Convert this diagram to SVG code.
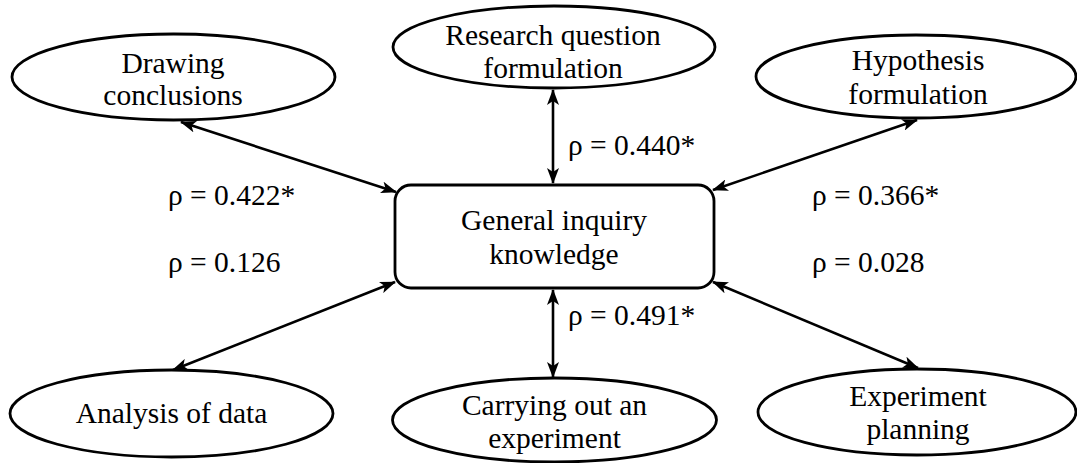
<svg xmlns="http://www.w3.org/2000/svg" width="1077" height="463" viewBox="0 0 1077 463">
<style>
.n{fill:#fff;stroke:#000;stroke-width:2.8}
.t{font-family:"Liberation Serif","Times New Roman",serif;font-size:29.5px;fill:#000;text-anchor:middle}
.l{font-family:"Liberation Serif","Times New Roman",serif;font-size:29.5px;fill:#000}
.c{stroke:#000;stroke-width:2.6;fill:none;marker-start:url(#a);marker-end:url(#a)}
</style>
<defs>
<marker id="a" viewBox="0 0 16 12" refX="15" refY="6" markerWidth="16" markerHeight="12" markerUnits="userSpaceOnUse" orient="auto-start-reverse">
<path d="M0,0 L16,6 L0,12 L4,6 Z" fill="#000"/>
</marker>
</defs>
<g id="connectors">
<line class="c" x1="396" y1="192" x2="181" y2="122"/>
<line class="c" x1="553" y1="183" x2="553" y2="90"/>
<line class="c" x1="713" y1="190" x2="917" y2="120"/>
<line class="c" x1="395" y1="282" x2="173" y2="370"/>
<line class="c" x1="553" y1="290" x2="553" y2="377"/>
<line class="c" x1="713" y1="282" x2="918" y2="368"/>
</g>
<g id="general">
<rect class="n" x="395" y="185" width="319" height="103" rx="16"/>
<text class="t" x="554" y="230">General inquiry</text>
<text class="t" x="554" y="264">knowledge</text>
</g>
<g id="drawing">
<ellipse class="n" cx="173.5" cy="77" rx="161.5" ry="43"/>
<text class="t" x="173" y="73">Drawing</text>
<text class="t" x="173" y="105">conclusions</text>
</g>
<g id="research">
<ellipse class="n" cx="554" cy="47" rx="161" ry="41"/>
<text class="t" x="553" y="45">Research question</text>
<text class="t" x="553" y="78">formulation</text>
</g>
<g id="hypothesis">
<ellipse class="n" cx="916" cy="76.5" rx="160" ry="41.5"/>
<text class="t" x="918" y="70">Hypothesis</text>
<text class="t" x="918" y="104">formulation</text>
</g>
<g id="analysis">
<ellipse class="n" cx="171.5" cy="413.5" rx="161.5" ry="43.5"/>
<text class="t" x="171.5" y="423">Analysis of data</text>
</g>
<g id="carrying">
<ellipse class="n" cx="554.5" cy="420" rx="162" ry="42"/>
<text class="t" x="554.5" y="415">Carrying out an</text>
<text class="t" x="554.5" y="448">experiment</text>
</g>
<g id="planning">
<ellipse class="n" cx="917" cy="412" rx="159" ry="43"/>
<text class="t" x="918" y="406">Experiment</text>
<text class="t" x="918" y="439">planning</text>
</g>
<g id="labels">
<text class="l" x="168" y="205">ρ = 0.422*</text>
<text class="l" x="568" y="155">ρ = 0.440*</text>
<text class="l" x="812" y="205">ρ = 0.366*</text>
<text class="l" x="168" y="272">ρ = 0.126</text>
<text class="l" x="568" y="325">ρ = 0.491*</text>
<text class="l" x="812" y="272">ρ = 0.028</text>
</g>
</svg>
